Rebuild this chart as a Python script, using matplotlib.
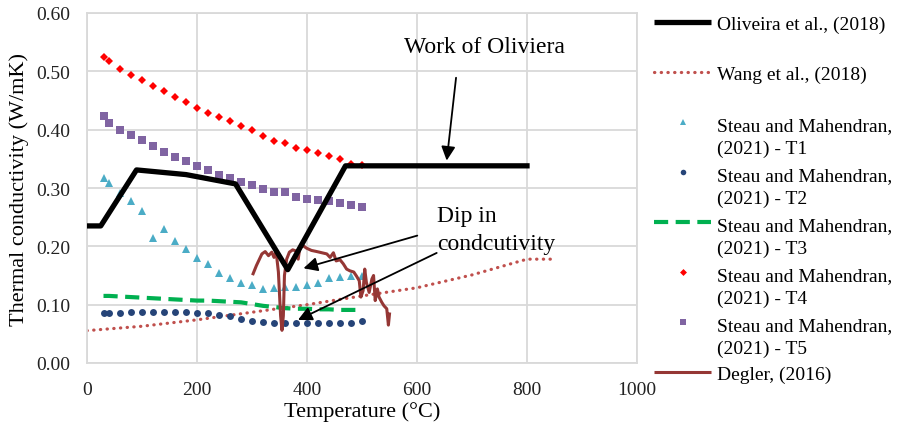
import matplotlib
matplotlib.use("Agg")
import matplotlib.pyplot as plt
from matplotlib.lines import Line2D

plt.rcParams['font.family'] = ['Liberation Serif', 'DejaVu Serif']

# ---------------- data ----------------
oliveira_T = [0, 25, 90, 180, 270, 365, 470, 800]
oliveira_k = [0.235, 0.235, 0.331, 0.323, 0.307, 0.160, 0.338, 0.338]

wang_T = [0, 100, 200, 300, 400, 500, 600, 700, 800, 850]
wang_k = [0.0555, 0.063, 0.074, 0.087, 0.100, 0.115, 0.129, 0.151, 0.178, 0.178]

steau_T = [30, 40, 60, 80, 100, 120, 140, 160, 180, 200, 220, 240, 260,
           280, 300, 320, 340, 360, 380, 400, 420, 440, 460, 480, 500]
t1_k = [0.318, 0.308, 0.292, 0.278, 0.261, 0.214, 0.230, 0.209, 0.196, 0.180,
        0.170, 0.154, 0.145, 0.137, 0.133, 0.127, 0.129, 0.130, 0.130, 0.133,
        0.137, 0.145, 0.148, 0.149, 0.150]
t2_k = [0.086, 0.086, 0.086, 0.087, 0.088, 0.088, 0.087, 0.087, 0.087, 0.085,
        0.085, 0.083, 0.080, 0.076, 0.072, 0.070, 0.068, 0.068, 0.068, 0.068,
        0.068, 0.069, 0.069, 0.069, 0.072]
t3_k = [0.115, 0.115, 0.114, 0.113, 0.112, 0.111, 0.110, 0.109, 0.108, 0.107,
        0.107, 0.106, 0.105, 0.104, 0.101, 0.098, 0.096, 0.094, 0.093, 0.093,
        0.092, 0.092, 0.091, 0.091, 0.091]
t4_k = [0.525, 0.518, 0.504, 0.493, 0.485, 0.475, 0.467, 0.456, 0.448, 0.437,
        0.429, 0.421, 0.415, 0.407, 0.399, 0.390, 0.381, 0.377, 0.369, 0.365,
        0.360, 0.355, 0.349, 0.342, 0.339]
t5_k = [0.423, 0.412, 0.400, 0.391, 0.382, 0.372, 0.362, 0.353, 0.347, 0.338,
        0.331, 0.323, 0.317, 0.311, 0.305, 0.298, 0.293, 0.293, 0.285, 0.281,
        0.280, 0.277, 0.274, 0.271, 0.268]

degler_T = [302, 308, 318, 324, 330, 336, 340, 344, 348, 352, 354.5, 357, 359,
            363, 368, 374, 380, 384, 387, 393, 399, 408, 418, 427, 436, 442,
            448, 453, 460, 466, 472, 478, 485, 490, 495, 498, 502, 505, 508,
            513, 518, 521, 524, 528, 531, 536, 540, 545, 548, 550]
degler_k = [0.153, 0.167, 0.187, 0.191, 0.184, 0.190, 0.181, 0.190, 0.156,
            0.081, 0.056, 0.081, 0.150, 0.178, 0.190, 0.194, 0.192, 0.178,
            0.198, 0.201, 0.197, 0.193, 0.191, 0.189, 0.187, 0.181, 0.189,
            0.175, 0.177, 0.170, 0.161, 0.158, 0.156, 0.149, 0.141, 0.113,
            0.124, 0.161, 0.138, 0.121, 0.144, 0.150, 0.107, 0.127, 0.113,
            0.104, 0.098, 0.093, 0.065, 0.084]

x_ticks = [0, 200, 400, 600, 800, 1000]
y_ticks = [0.00, 0.10, 0.20, 0.30, 0.40, 0.50, 0.60]

labels = ["Oliveira et al., (2018)", "Wang et al., (2018)",
          "Steau and Mahendran,\n(2021) - T1", "Steau and Mahendran,\n(2021) - T2",
          "Steau and Mahendran,\n(2021) - T3", "Steau and Mahendran,\n(2021) - T4",
          "Steau and Mahendran,\n(2021) - T5", "Degler, (2016)"]

# ---------------- figure ----------------
W, H = 898, 431
fig = plt.figure(figsize=(W / 100, H / 100), dpi=100)
ax = fig.add_axes([87 / W, 1 - 364 / H, 550 / W, 350 / H])

grid_c = '#D9D9D9'
ax.set_xlim(0, 1000)
ax.set_ylim(0, 0.6)
ax.set_xticks(x_ticks)
ax.set_yticks(y_ticks)
ax.set_yticklabels([f"{v:.2f}" for v in y_ticks])
ax.grid(True, color=grid_c, lw=1.3, zorder=0)
ax.set_axisbelow(True)
for s in ax.spines.values():
    s.set_color(grid_c)
    s.set_linewidth(1.3)
ax.tick_params(axis='both', length=0, labelsize=14, colors='#222222')
ax.tick_params(axis='y', pad=12)
ax.tick_params(axis='x', pad=13)

ax.set_xlabel("Temperature (°C)", fontsize=16)
ax.set_ylabel("Thermal conductivity (W/mK)", fontsize=16)
ax.xaxis.set_label_coords(0.5, -0.11)
ax.yaxis.set_label_coords(-0.105, 0.5)

WANG_DASH = (0.1, 2.0)
T3_DASH = (3.4, 1.8)
h_wang, = ax.plot(wang_T, wang_k, color='#C0504D', lw=2.3, dashes=WANG_DASH,
                  dash_capstyle='round', zorder=2)
h_t1, = ax.plot(steau_T, t1_k, ls='none', marker='^', ms=6, color='#4BACC6',
                markeredgewidth=0, zorder=3)
h_t2, = ax.plot(steau_T, t2_k, ls='none', marker='o', ms=5, color='#264478',
                markeredgewidth=0, zorder=3)
h_t3, = ax.plot(steau_T, t3_k, color='#00B050', lw=3, dashes=T3_DASH, zorder=3)
h_t4, = ax.plot(steau_T, t4_k, ls='none', marker='D', ms=4.4, color='#FF0000',
                markeredgewidth=0, zorder=3)
h_t5, = ax.plot(steau_T, t5_k, ls='none', marker='s', ms=5.5, color='#8064A2',
                markeredgewidth=0, zorder=3)
h_deg, = ax.plot(degler_T, degler_k, color='#953735', lw=2.2, zorder=4)
h_oli, = ax.plot(oliveira_T, oliveira_k, color='black', lw=3.8, zorder=5)

handles = [h_oli, h_wang, h_t1, h_t2, h_t3, h_t4, h_t5, h_deg]

# ---------------- annotations ----------------
ax.text(722, 0.533, "Work of Oliviera", fontsize=17, ha='center', va='baseline')
arrow = dict(arrowstyle='-|>', lw=1.3, color='black', mutation_scale=21,
             shrinkA=0, shrinkB=0)
ax.annotate("", xy=(654, 0.347), xytext=(671, 0.489), arrowprops=arrow, zorder=6)
# va='baseline' anchors the last line of a multi-line text
ax.text(636, 0.1955, "Dip in\ncondcutivity", fontsize=17, ha='left',
        va='baseline', linespacing=1.44)
ax.annotate("", xy=(393.6, 0.1624), xytext=(600.5, 0.2184), arrowprops=arrow, zorder=6)
ax.annotate("", xy=(383.6, 0.0738), xytext=(635.8, 0.1887), arrowprops=arrow, zorder=6)

# ---------------- legend (drawn manually, handle aligned to first line) ----------------
entry_y = [23, 73, 123, 173, 223, 273, 323, 373]
for h, lab, yy in zip(handles, labels, entry_y):
    fy = 1 - yy / H
    if h.get_linestyle() != 'None':
        ln = Line2D([654 / W, 711 / W], [fy, fy], transform=fig.transFigure,
                    color=h.get_color(), lw=h.get_linewidth(),
                    solid_capstyle='butt',
                    dash_capstyle=h.get_dash_capstyle())
        if h is h_wang:
            ln.set_dashes(WANG_DASH)
        if h is h_t3:
            ln.set_dashes(T3_DASH)
    else:
        ln = Line2D([683 / W], [fy], transform=fig.transFigure, ls='none',
                    marker=h.get_marker(), ms=h.get_markersize() * 0.8,
                    color=h.get_color(), markeredgewidth=0)
    fig.add_artist(ln)
    nlines = lab.count("\n") + 1
    base_y = yy + 6.5 + 24 * (nlines - 1)
    fig.text(717 / W, 1 - base_y / H, lab, fontsize=14, ha='left',
             va='baseline', linespacing=1.4)

fig.savefig("out.png", dpi=100)
